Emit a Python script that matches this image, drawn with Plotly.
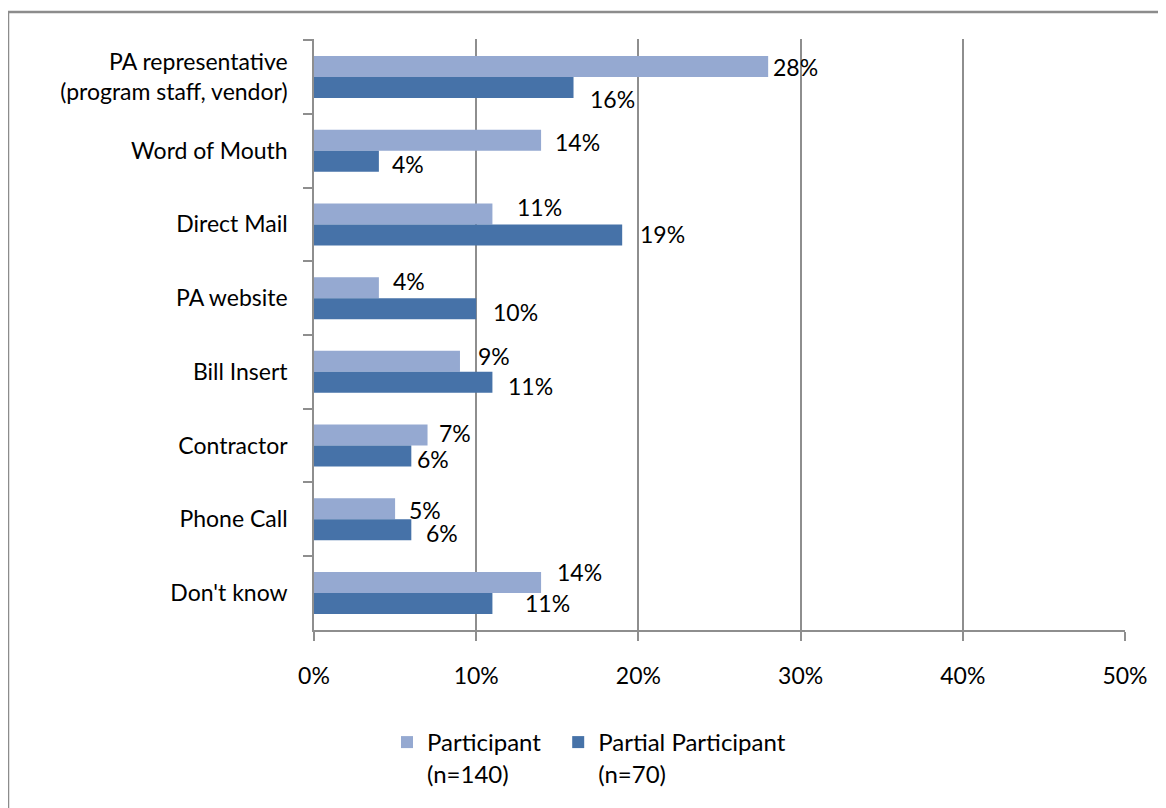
import plotly.graph_objects as go

categories = [
    "PA representative<br>(program staff, vendor)",
    "Word of Mouth",
    "Direct Mail",
    "PA website",
    "Bill Insert",
    "Contractor",
    "Phone Call",
    "Don't know",
]
participant = [28, 14, 11, 4, 9, 7, 5, 14]
partial = [16, 4, 19, 10, 11, 6, 6, 11]
series_names = ["Participant&nbsp;&nbsp;<br>(n=140)", "Partial Participant<br>(n=70)"]
x_ticks = [0, 10, 20, 30, 40, 50]
x_tick_labels = ["0%", "10%", "20%", "30%", "40%", "50%"]

# label nudges (pixels) mimicking the hand-placed data labels of the original
light_label_dx = [3, 12, 23, 12, 16, 9, 12, 14]
light_label_dy = [10, 9, 17, 17, 16, 13, 9, 21]
dark_label_dx = [14, 11, 16, 15, 14, 4, 13, 31]
dark_label_dy = [-22, -13, -10, -14, -14, -13, -14, -10]

light = "#95A9D1"
dark = "#4672A8"
font = "Lato, 'Open Sans', sans-serif"
FS = 23
W, H = 1166, 808
L, R, T, B = 306, 49, 31, 186
pw, ph = W - L - R, H - T - B

fig = go.Figure()
fig.add_trace(go.Bar(y=categories, x=participant, orientation="h", name=series_names[0],
                     marker=dict(color=light, line=dict(width=0))))
fig.add_trace(go.Bar(y=categories, x=partial, orientation="h", name=series_names[1],
                     marker=dict(color=dark, line=dict(width=0))))

annotations = []
for vals, dxs, dys in ((participant, light_label_dx, light_label_dy),
                       (partial, dark_label_dx, dark_label_dy)):
    for c, v, dx, dy in zip(categories, vals, dxs, dys):
        annotations.append(dict(x=v, y=c, xref="x", yref="y", text=f"{v}%", showarrow=False,
                                xanchor="left", yanchor="middle", xshift=dx, yshift=dy,
                                font=dict(family=font, size=FS, color="#000")))

fig.update_layout(
    width=W, height=H,
    margin=dict(l=L, r=R, t=T, b=B),
    paper_bgcolor="white", plot_bgcolor="white",
    barmode="group", bargap=0.43, bargroupgap=0,
    font=dict(family=font, size=FS, color="#000"),
    showlegend=True,
    legend=dict(orientation="h", x=(581 - L) / pw, xanchor="center",
                y=(T + ph - 712) / ph, yanchor="top", valign="top",
                font=dict(family=font, size=24), traceorder="normal",
                itemwidth=30),
    annotations=annotations,
    shapes=[dict(type="rect", xref="paper", yref="paper",
                 x0=(0 - L) / pw, x1=(W + 30 - L) / pw,
                 y0=-(H + 30 - T - ph) / ph, y1=1 + (T - 4) / ph,
                 line=dict(color="#8C8C8C", width=2.5), layer="below")],
)
fig.update_xaxes(range=[0, 50], tickvals=x_ticks, ticktext=x_tick_labels,
                 showgrid=True, gridcolor="#8E8E8E", gridwidth=1.6,
                 showline=True, linecolor="#8E8E8E", linewidth=1.6,
                 ticks="outside", ticklen=9, tickcolor="#8E8E8E", tickwidth=1.6,
                 ticklabelstandoff=16, zeroline=False,
                 tickfont=dict(family=font, size=FS))
fig.update_yaxes(autorange="reversed", showgrid=False,
                 showline=True, linecolor="#8E8E8E", linewidth=1.6,
                 ticks="outside", tickson="boundaries", ticklen=9, tickcolor="#8E8E8E", tickwidth=1.6,
                 ticklabelstandoff=20,
                 tickfont=dict(family=font, size=FS))

fig.write_html("out.html")
